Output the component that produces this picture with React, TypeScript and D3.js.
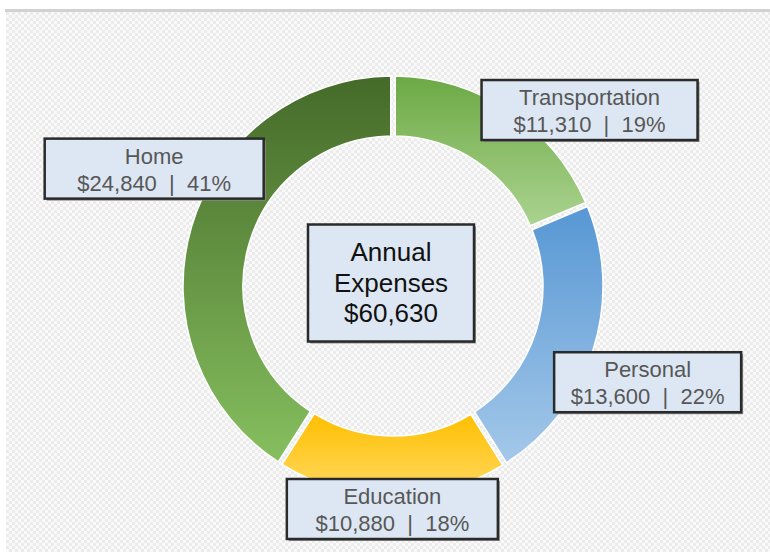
import * as d3 from "d3";
import { useEffect, useRef } from "react";

// Expense categories, clockwise from 12 o'clock
const categories = ["Transportation", "Personal", "Education", "Home"];
const amounts = [11310, 13600, 10880, 24840];

// Gradient stops for each slice (top -> bottom)
const gradTop = ["#6ca944", "#5797d4", "#ffbf00", "#456a29"];
const gradBottom = ["#abd390", "#a4c8e9", "#ffd963", "#86bf5f"];

// Label box placement relative to each slice centroid, and box widths
const labelOffset = [
  [97, -26],
  [83, 42],
  [0, 43],
  [-66, -67],
];
const labelWidth = [216, 187, 211, 219];

const centerLines = ["Annual", "Expenses"];

const W = 770;
const H = 552;

const App = () => {
  const ref = useRef<SVGSVGElement>(null);

  useEffect(() => {
    const svg = d3.select(ref.current);
    svg.selectAll("*").remove();

    const cx = 393,
      cy = 286,
      outerR = 210,
      innerR = 150;

    const defs = svg.append("defs");

    // checkered backdrop
    const pat = defs
      .append("pattern")
      .attr("id", "bg")
      .attr("width", 6)
      .attr("height", 6)
      .attr("patternUnits", "userSpaceOnUse");
    pat.append("rect").attr("width", 6).attr("height", 6).attr("fill", "#f9f9f9");
    pat.append("rect").attr("width", 3).attr("height", 3).attr("fill", "#ebebeb");
    pat.append("rect").attr("x", 3).attr("y", 3).attr("width", 3).attr("height", 3).attr("fill", "#ebebeb");

    categories.forEach((c, i) => {
      const g = defs
        .append("linearGradient")
        .attr("id", `grad${i}`)
        .attr("x1", 0)
        .attr("y1", 0)
        .attr("x2", 0)
        .attr("y2", 1);
      g.append("stop").attr("offset", "0%").attr("stop-color", gradTop[i]);
      g.append("stop").attr("offset", "100%").attr("stop-color", gradBottom[i]);
    });

    svg.append("rect").attr("x", 5).attr("y", 9).attr("width", W - 5).attr("height", 3).attr("fill", "#d2d2d2");
    svg.append("rect").attr("x", 6).attr("y", 12).attr("width", W - 6).attr("height", H - 12).attr("fill", "url(#bg)");

    const data = categories.map((name, i) => ({ name, value: amounts[i], i }));
    const total = d3.sum(amounts);

    const pie = d3
      .pie<any>()
      .value((d) => d.value)
      .sort(null);
    const arcs = pie(data);

    const arc = d3
      .arc<any>()
      .innerRadius(innerR)
      .outerRadius(outerR)
      .padAngle(4.5 / 180)
      .padRadius(180);

    const g = svg.append("g").attr("transform", `translate(${cx},${cy})`);

    g.selectAll("path.slice")
      .data(arcs)
      .join("path")
      .attr("class", "slice")
      .attr("d", arc)
      .attr("fill", (d) => `url(#grad${d.data.i})`)
      .attr("stroke", "#ffffff")
      .attr("stroke-width", 1.5);

    const midArc = d3.arc<any>().innerRadius(180).outerRadius(180);
    const fmt = d3.format("$,");

    // label boxes
    const drawBox = (
      parent: any,
      x: number,
      y: number,
      w: number,
      h: number
    ) => {
      parent
        .append("rect")
        .attr("x", x + 2)
        .attr("y", y + 2)
        .attr("width", w)
        .attr("height", h)
        .attr("fill", "#8f8f8f");
      parent
        .append("rect")
        .attr("x", x)
        .attr("y", y)
        .attr("width", w)
        .attr("height", h)
        .attr("fill", "#dde7f3")
        .attr("stroke", "#2a2a2a")
        .attr("stroke-width", 2.5);
    };

    arcs.forEach((a) => {
      const i = a.data.i;
      const [mx, my] = midArc.centroid(a);
      const bx = mx + labelOffset[i][0];
      const by = my + labelOffset[i][1];
      const w = labelWidth[i];
      const h = 60;
      const lg = g.append("g");
      drawBox(lg, bx - w / 2, by - h / 2, w, h);
      const t = lg
        .append("text")
        .attr("text-anchor", "middle")
        .style("font-family", "'Liberation Sans', Arial, sans-serif")
        .style("font-size", "22px")
        .style("fill", "#575757")
        .style("white-space", "pre");
      t.append("tspan").attr("x", bx).attr("y", by - 5).text(a.data.name);
      t.append("tspan")
        .attr("x", bx)
        .attr("y", by + 22)
        .text(`${fmt(a.data.value)}  |  ${Math.round((a.data.value / total) * 100)}%`);
    });

    // centre box
    const cw = 166,
      ch = 117;
    drawBox(g, -cw / 2 - 2, -ch / 2 - 3, cw, ch);
    const ct = g
      .append("text")
      .attr("text-anchor", "middle")
      .style("font-family", "'Liberation Sans', Arial, sans-serif")
      .style("font-size", "26px")
      .style("fill", "#111111");
    centerLines.concat([fmt(total)]).forEach((line, k) => {
      ct.append("tspan")
        .attr("x", -2)
        .attr("y", -25 + k * 30.5)
        .text(line);
    });
  }, []);

  return (
    <svg
      ref={ref}
      width={W}
      height={H}
      style={{ position: "absolute", left: 0, top: 0, background: "#ffffff" }}
    />
  );
};

export default App;
